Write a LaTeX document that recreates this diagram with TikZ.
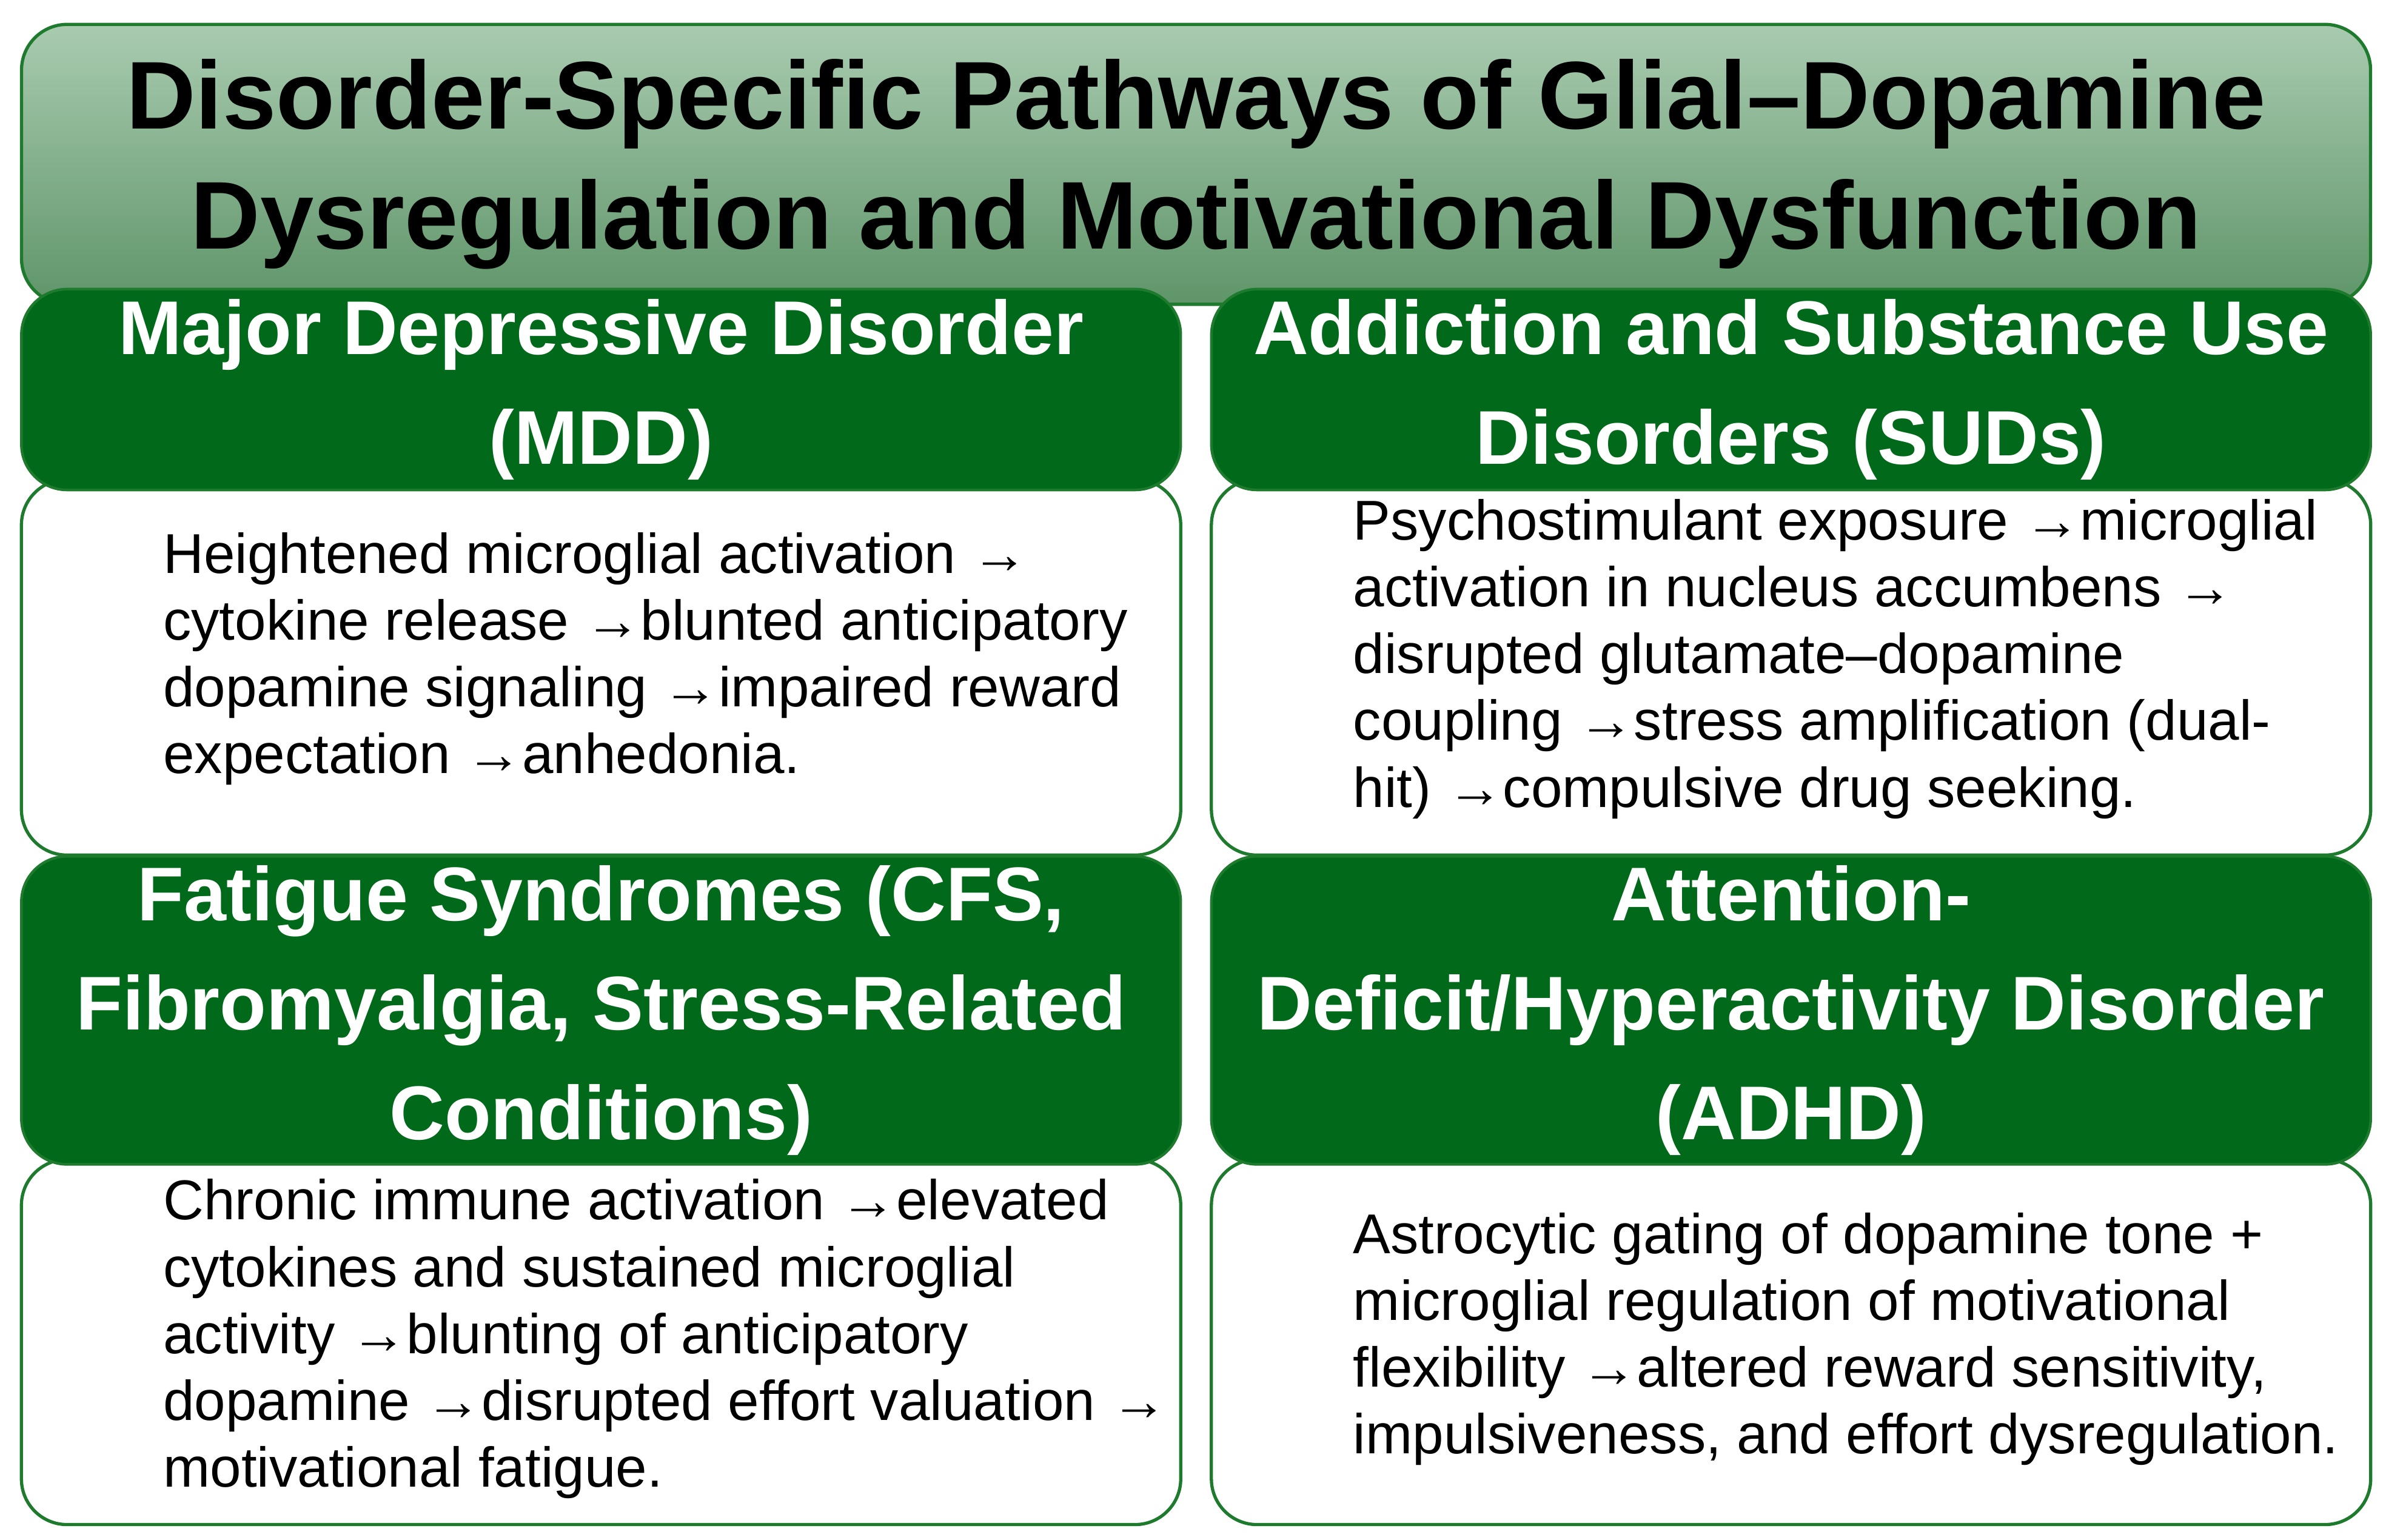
\documentclass[tikz,border=0pt]{standalone}
\usepackage{fontspec}
\setmainfont{Liberation Sans}
\usetikzlibrary{positioning,shadings}
\definecolor{hdrgreen}{HTML}{006A1A}
\definecolor{ttltop}{HTML}{A9CBB0}
\definecolor{ttlbot}{HTML}{5F9569}
\definecolor{edgegreen}{HTML}{1E7A2C}
\tikzset{
  ttl/.style={draw=edgegreen, line width=1.2pt, rounded corners=0.6cm, top color=ttltop, bottom color=ttlbot,
    minimum width=30.88cm, minimum height=3.68cm, align=center,
    font=\fontsize{36}{45}\selectfont\bfseries},
  hdr/.style={draw=edgegreen, line width=1pt, fill=hdrgreen, rounded corners=0.6cm, text=white,
    minimum width=15.24cm, align=center, font=\fontsize{28.5}{41}\selectfont\bfseries},
  body/.style={draw=edgegreen, line width=1.2pt, fill=white, rounded corners=0.6cm,
    minimum width=15.24cm},
  txt/.style={anchor=west, align=left, inner sep=0pt, font=\fontsize{21}{25}\selectfont}
}
\begin{document}
\begin{tikzpicture}[x=0.02cm,y=-0.02cm]
\useasboundingbox (0,0) rectangle (1568,1012);
% title
\node[ttl] (title) at (786,108) {Disorder-Specific Pathways of Glial--Dopamine\\Dysregulation and Motivational Dysfunction};
% bodies
\node[body, minimum height=4.94cm] (mddbody) at (395,438.5) {};
\node[body, minimum height=4.94cm] (sudbody) at (1177,438.5) {};
\node[body, minimum height=4.8cm] (cfsbody) at (395,882) {};
\node[body, minimum height=4.8cm] (adhdbody) at (1177,882) {};
% headers
\node[hdr, minimum height=2.64cm] (mddhdr) at (395,256) {Major Depressive Disorder\\(MDD)};
\node[hdr, minimum height=2.64cm] (sudhdr) at (1177,256) {Addiction and Substance Use\\Disorders (SUDs)};
\node[hdr, minimum height=4.04cm] (cfshdr) at (395,664) {Fatigue Syndromes (CFS,\\Fibromyalgia, Stress-Related\\Conditions)};
\node[hdr, minimum height=4.04cm] (adhdhdr) at (1177,664) {Attention-\\Deficit/Hyperactivity Disorder\\(ADHD)};
% texts
\node[txt] (mddtxt) at (107,433) {Heightened microglial activation →\\cytokine release →blunted anticipatory\\dopamine signaling →impaired reward\\expectation →anhedonia.};
\node[txt] (sudtxt) at (889,433) {Psychostimulant exposure →microglial\\activation in nucleus accumbens →\\disrupted glutamate–dopamine\\coupling →stress amplification (dual-\\hit) →compulsive drug seeking.};
\node[txt] (cfstxt) at (107,880) {Chronic immune activation →elevated\\cytokines and sustained microglial\\activity →blunting of anticipatory\\dopamine →disrupted effort valuation →\\motivational fatigue.};
\node[txt] (adhdtxt) at (889,880) {Astrocytic gating of dopamine tone +\\microglial regulation of motivational\\flexibility →altered reward sensitivity,\\impulsiveness, and effort dysregulation.};
\end{tikzpicture}
\end{document}
